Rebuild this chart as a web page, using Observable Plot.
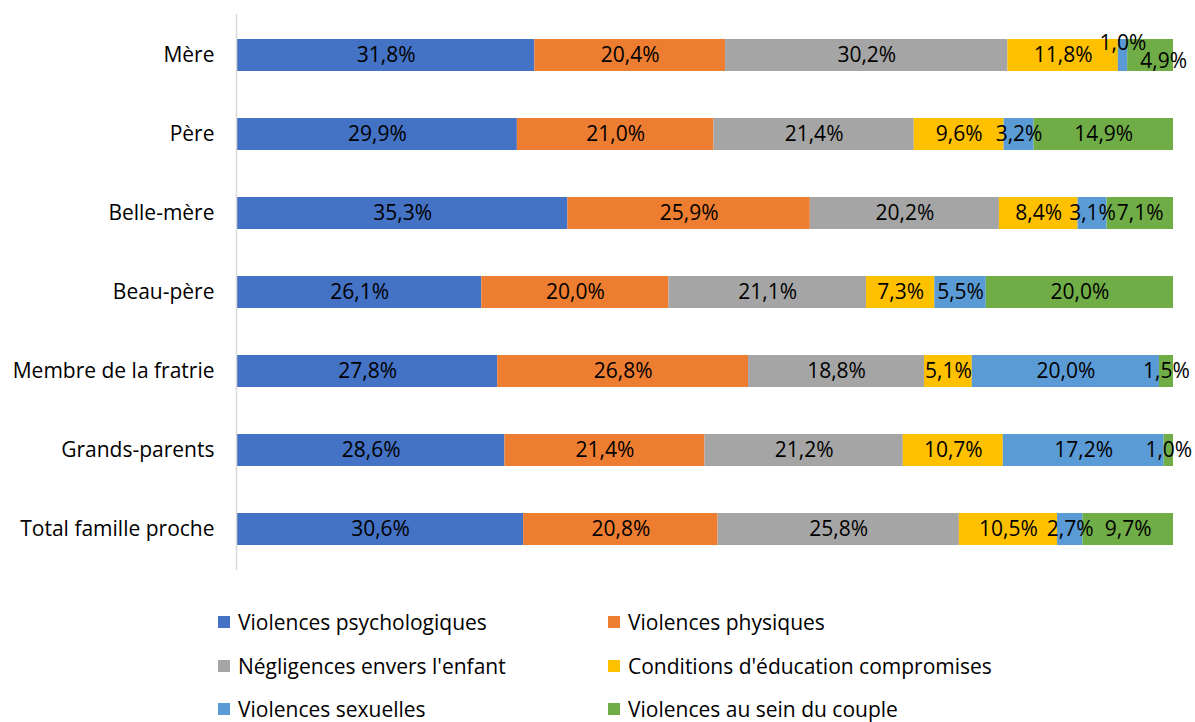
<!DOCTYPE html>
<html>
<head>
<meta charset="utf-8">
<script src="https://cdn.jsdelivr.net/npm/d3@7"></script>
<script src="https://cdn.jsdelivr.net/npm/@observablehq/plot@0.6"></script>
<style>
  html, body { margin: 0; padding: 0; background: #fff; }
  body { width: 1195px; height: 722px; overflow: hidden; position: relative; font-family: "Open Sans", sans-serif; }
  #legend { position: absolute; left: 0; top: 0; width: 1195px; height: 722px; pointer-events: none; }
  .item { position: absolute; display: flex; align-items: center; font-size: 21px; line-height: 26px; color: #000; white-space: nowrap; }
  .sw { width: 12px; height: 12px; margin-right: 8px; }
</style>
</head>
<body>
<div id="chart"></div>
<div id="legend"></div>
<script>
const categories = ["Mère", "Père", "Belle-mère", "Beau-père", "Membre de la fratrie", "Grands-parents", "Total famille proche"];
const seriesNames = ["Violences psychologiques", "Violences physiques", "Négligences envers l'enfant", "Conditions d'éducation compromises", "Violences sexuelles", "Violences au sein du couple"];
const colors = ["#4472C4", "#ED7D31", "#A5A5A5", "#FFC000", "#5B9BD5", "#70AD47"];

const psychologiques = [31.8, 29.9, 35.3, 26.1, 27.8, 28.6, 30.6];
const physiques      = [20.4, 21.0, 25.9, 20.0, 26.8, 21.4, 20.8];
const negligences    = [30.2, 21.4, 20.2, 21.1, 18.8, 21.2, 25.8];
const education      = [11.8, 9.6, 8.4, 7.3, 5.1, 10.7, 10.5];
const sexuelles      = [1.0, 3.2, 3.1, 5.5, 20.0, 17.2, 2.7];
const couple         = [4.9, 14.9, 7.1, 20.0, 1.5, 1.0, 9.7];

const seriesValues = [psychologiques, physiques, negligences, education, sexuelles, couple];

const data = [];
categories.forEach((cat, i) => {
  seriesNames.forEach((s, j) => {
    data.push({cat, series: s, value: seriesValues[j][i]});
  });
});

const fmt = v => v.toFixed(1).replace(".", ",") + "%";
const isUp = d => d.cat === "Mère" && d.series === "Violences sexuelles";
const isRight = d => d.cat === "Mère" && d.series === "Violences au sein du couple";

const stackOpts = (extra) => Plot.stackX({x: "value", y: "cat", z: "series", offset: "normalize", order: null, ...extra});

const FONT = "'Open Sans', sans-serif";
const FS = 21;
const chart = Plot.plot({
  width: 1195,
  height: 590,
  marginLeft: 237,
  marginRight: 22,
  marginTop: 14,
  marginBottom: 20,
  style: {fontFamily: FONT, fontSize: FS + "px", color: "#000", background: "#fff"},
  x: {domain: [0, 1], axis: null},
  y: {domain: categories, paddingInner: 0.6, paddingOuter: 0.3, label: null, axis: null},
  color: {domain: seriesNames, range: colors},
  marks: [
    Plot.barX(data, stackOpts({fill: "series"})),
    Plot.ruleX([0], {stroke: "#d9d9d9", strokeWidth: 1.5, dx: -1}),
    Plot.text(data, stackOpts({text: d => (isUp(d) || isRight(d)) ? "" : fmt(d.value), fill: "#000", fontSize: FS})),
    Plot.text(data, stackOpts({text: d => isUp(d) ? fmt(d.value) : "", fill: "#000", fontSize: FS, dy: -12})),
    Plot.text(data, stackOpts({text: d => isRight(d) ? fmt(d.value) : "", fill: "#000", fontSize: FS, dx: 13, dy: 6})),
    Plot.axisY({tickSize: 0, tickPadding: 23, fontSize: FS, fill: "#000", label: null})
  ]
});
document.getElementById("chart").appendChild(chart);

const legend = document.getElementById("legend");
const pos = [[218, 622], [608, 622], [218, 666], [608, 666], [218, 709], [608, 709]];
seriesNames.forEach((s, i) => {
  const el = document.createElement("div");
  el.className = "item";
  el.style.left = pos[i][0] + "px";
  el.style.top = (pos[i][1] - 13) + "px";
  el.style.height = "26px";
  el.innerHTML = `<span class="sw" style="background:${colors[i]}"></span><span>${s}</span>`;
  legend.appendChild(el);
});
</script>
</body>
</html>
